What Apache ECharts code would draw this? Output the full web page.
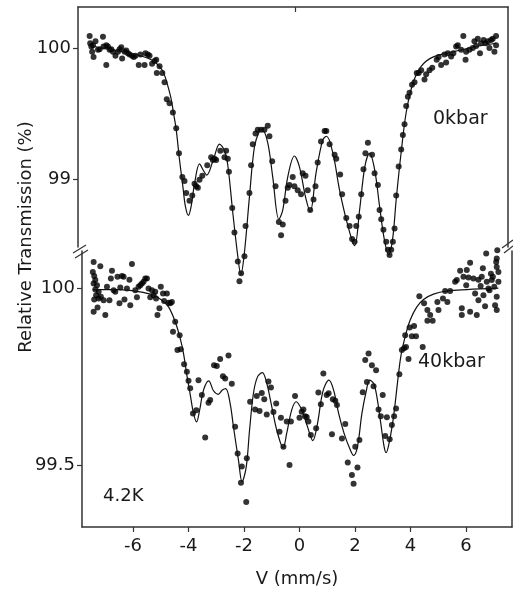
<!DOCTYPE html>
<html>
<head>
<meta charset="utf-8">
<script src="https://cdn.jsdelivr.net/npm/echarts@6/dist/echarts.min.js"></script>
<style>
html,body{margin:0;padding:0;background:#fff;}
#chart{width:513px;height:592px;}
</style>
</head>
<body>
<div id="chart"></div>
<script>
// ---- data ----
const xTicks = [-6, -4, -2, 0, 2, 4, 6];
const topYTicks = [99, 100];
const botYTicks = [99.5, 100];

// 0 kbar measured points [velocity mm/s, transmission %]
const topDots = [
[-7.42,100.09],[-7.40,100.035],[-7.36,100.01],[-7.33,99.97],[-7.28,99.93],[-7.30,100.02],[-7.21,100.05],[-7.12,99.985],[-7.06,99.99],[-6.94,100.085],[-6.92,100.01],[-6.82,100.02],[-6.82,99.87],[-6.76,100.01],[-6.70,99.985],[-6.64,99.99],[-6.58,99.97],[-6.49,99.94],[-6.40,99.97],[-6.34,99.99],[-6.28,100.005],[-6.25,99.92],[-6.16,99.97],[-6.10,99.98],[-6.04,99.96],[-5.98,99.95],[-5.89,99.94],[-5.83,99.93],[-5.77,99.94],[-5.65,99.87],[-5.59,99.95],[-5.44,99.87],[-5.41,99.96],[-5.32,99.95],[-5.26,99.94],[-5.17,99.88],[-5.08,99.90],[-5.02,99.91],[-5.00,99.81],[-4.90,99.86],[-4.80,99.81],[-4.72,99.74],[-4.64,99.61],[-4.54,99.58],[-4.42,99.51],[-4.30,99.39],[-4.20,99.20],[-4.08,99.02],[-4.00,98.99],[-3.94,98.90],[-3.82,98.84],[-3.72,98.88],[-3.64,98.97],[-3.58,98.95],[-3.52,98.94],[-3.46,99.00],[-3.36,99.03],[-3.18,99.11],[-3.04,99.17],[-2.98,99.15],[-2.92,99.16],[-2.86,99.15],[-2.71,99.22],[-2.56,99.17],[-2.50,99.22],[-2.44,99.16],
[-2.40,99.06],[-2.28,98.785],[-2.20,98.60],[-2.08,98.38],[-1.96,98.29],[-2.02,98.23],[-1.84,98.42],[-1.80,98.65],[-1.66,98.90],[-1.60,99.11],[-1.54,99.27],[-1.44,99.35],[-1.36,99.38],[-1.24,99.38],[-1.12,99.38],[-1.00,99.41],[-0.94,99.33],[-0.84,99.14],[-0.72,98.95],[-0.60,98.68],[-0.52,98.58],[-0.46,98.66],[-0.36,98.84],[-0.28,98.94],[-0.22,98.96],[-0.10,99.02],[-0.04,98.95],[0.08,98.92],[0.20,98.89],[0.26,99.05],[0.36,99.03],[0.44,98.92],[0.53,98.77],[0.65,98.85],[0.72,98.95],[0.80,99.13],[0.92,99.29],[1.05,99.37],[1.11,99.37],[1.23,99.27],[1.41,99.19],[1.47,99.16],[1.61,99.04],[1.68,98.89],[1.83,98.71],[1.95,98.65],[2.04,98.55],[2.13,98.53],[2.19,98.65],[2.28,98.72],[2.37,98.89],[2.45,99.08],[2.52,99.20],[2.61,99.28],
[2.76,99.19],[2.85,99.05],[2.97,98.96],[3.03,98.77],[3.09,98.70],[3.17,98.62],[3.27,98.53],[3.33,98.47],[3.39,98.43],[3.45,98.47],[3.51,98.53],[3.57,98.63],[3.63,98.88],[3.72,99.10],[3.81,99.23],[3.87,99.34],[3.93,99.42],[3.99,99.56],[4.05,99.63],[4.11,99.66],[4.20,99.72],[4.29,99.74],[4.37,99.81],[4.44,99.81],[4.53,99.83],[4.65,99.76],[4.71,99.80],[4.83,99.83],[4.93,99.85],[5.09,99.91],[5.16,99.93],[5.25,99.87],[5.37,99.95],[5.43,99.89],[5.49,99.96],[5.61,99.935],[5.69,99.96],[5.79,100.01],[5.85,100.02],[5.97,99.985],[6.05,100.09],[6.13,99.91],[6.15,99.97],[6.27,99.985],[6.39,100.0],[6.45,100.05],[6.51,100.015],[6.57,100.07],[6.65,99.96],[6.69,100.035],[6.78,100.06],[6.85,100.035],[6.93,100.05],[6.99,100.0],[7.05,100.06],[7.11,100.07],[7.17,99.97],[7.23,100.09],[7.23,100.02]
];

// 0 kbar fitted curve, sampled along the drawn line
const topFit = [
[-7.45,100.02],[-7.0,100.0],[-6.5,99.98],[-6.0,99.96],[-5.5,99.935],[-5.2,99.91],[-5.0,99.88],[-4.8,99.83],[-4.7,99.78],[-4.6,99.71],[-4.48,99.61],[-4.4,99.51],[-4.3,99.38],[-4.18,99.15],[-4.06,98.95],[-3.97,98.80],[-3.86,98.73],[-3.76,98.80],[-3.64,98.97],[-3.46,99.12],[-3.32,99.07],[-3.2,99.035],[-2.95,99.16],[-2.74,99.27],[-2.56,99.22],[-2.44,99.11],[-2.26,98.75],[-2.08,98.42],[-1.97,98.28],[-1.84,98.45],[-1.66,98.87],[-1.48,99.25],[-1.30,99.37],[-1.2,99.38],[-1.0,99.28],[-0.82,99.02],[-0.60,98.70],[-0.46,98.77],[-0.28,99.02],[-0.04,99.18],[0.14,99.10],[0.36,98.87],[0.53,98.76],[0.74,99.05],[0.98,99.30],[1.12,99.33],[1.35,99.20],[1.59,98.92],[1.89,98.65],[2.13,98.50],[2.31,98.77],[2.5,99.10],[2.67,99.20],[2.85,99.08],[3.03,98.80],[3.2,98.55],[3.36,98.43],[3.5,98.55],[3.63,98.85],[3.81,99.21],[3.99,99.51],[4.23,99.73],[4.53,99.86],[4.95,99.93],[5.67,99.97],[6.51,100.01],[7.23,100.035]
];

// 40 kbar measured points
const botDots = [
[-7.42,100.074],[-7.18,100.062],[-7.45,100.046],[-7.40,100.034],[-7.36,100.023],[-7.42,100.013],[-7.30,100.008],[-7.36,99.996],[-7.24,99.99],[-7.33,99.98],[-7.40,99.968],[-7.24,99.971],[-7.42,99.933],[-7.28,99.945],[-7.16,99.976],[-7.06,99.966],[-7.00,99.924],[-6.94,100.004],[-6.85,99.966],[-6.76,100.049],[-6.80,100.027],[-6.70,99.994],[-6.64,99.99],[-6.56,100.032],[-6.49,99.957],[-6.46,100.002],[-6.40,100.034],[-6.34,100.032],[-6.31,99.968],[-6.22,99.999],[-6.13,100.024],[-6.10,99.952],[-6.04,100.068],[-5.92,99.994],[-5.86,99.974],[-5.80,100.004],[-5.74,100.008],[-5.68,100.013],[-5.62,100.018],[-5.56,100.027],[-5.50,100.027],[-5.44,99.999],[-5.38,99.974],[-5.32,99.994],[-5.26,99.98],[-5.20,99.99],[-5.17,99.971],[-5.12,99.924],[-5.05,99.943],[-5.00,100.004],[-4.92,99.985],[-4.88,99.964],[-4.78,99.985],[-4.72,99.959],[-4.66,99.957],[-4.60,99.961],[-4.56,99.877],[-4.48,99.905],[-4.40,99.825],[-4.32,99.867],[-4.28,99.827],[-4.16,99.785],[-4.06,99.764],[-4.00,99.738],[-3.94,99.717],[-3.84,99.646],[-3.72,99.655],[-3.64,99.74],[-3.52,99.698],[-3.40,99.578],[-3.28,99.676],[-3.22,99.684],[-3.08,99.782],[-2.98,99.78],[-2.86,99.80],[-2.76,99.751],[-2.68,99.745],[-2.56,99.81],
[-2.44,99.73],[-2.32,99.608],[-2.23,99.533],[-2.08,99.496],[-1.90,99.519],[-2.11,99.45],[-1.92,99.396],[-1.78,99.679],[-1.60,99.657],[-1.54,99.695],[-1.44,99.653],[-1.36,99.704],[-1.27,99.686],[-1.18,99.643],[-1.12,99.736],[-1.03,99.719],[-0.94,99.65],[-0.84,99.674],[-0.72,99.594],[-0.67,99.634],[-0.58,99.552],[-0.46,99.623],[-0.36,99.50],[-0.31,99.623],[-0.16,99.695],[0.00,99.634],[0.08,99.651],[0.14,99.657],[0.20,99.638],[0.26,99.636],[0.32,99.623],[0.41,99.585],[0.60,99.604],[0.68,99.705],[0.77,99.672],[0.86,99.759],[0.98,99.698],[1.05,99.703],[1.20,99.686],[1.29,99.682],[1.35,99.67],[1.17,99.587],[1.53,99.575],[1.65,99.616],[1.74,99.507],[1.89,99.472],[1.95,99.447],[2.01,99.552],[2.09,99.493],[2.16,99.571],[2.28,99.706],[2.37,99.797],[2.43,99.735],[2.49,99.815],
[2.61,99.782],[2.76,99.768],[2.67,99.723],[3.00,99.698],[2.85,99.657],[2.93,99.638],[3.15,99.635],[3.33,99.613],[3.41,99.638],[3.48,99.66],[3.09,99.582],[3.25,99.573],[3.60,99.757],[3.69,99.825],[3.77,99.83],[3.84,99.834],[3.93,99.80],[3.81,99.867],[3.97,99.889],[4.05,99.864],[4.13,99.893],[4.20,99.864],[4.32,99.977],[4.44,99.834],[4.49,99.957],[4.61,99.938],[4.71,99.924],[4.80,99.908],[4.61,99.908],[5.01,99.938],[4.97,99.961],[5.17,99.971],[5.25,99.992],[5.33,99.961],[5.43,99.992],[5.61,100.018],[5.67,100.023],[5.79,100.049],[5.85,99.924],[5.85,99.943],[6.15,99.933],[6.39,99.924],[5.91,100.032],[6.03,100.051],[6.01,100.008],[6.09,100.03],[6.15,100.072],[6.27,100.027],[6.33,99.985],[6.45,99.966],[6.45,100.024],[6.57,100.032],[6.53,100.006],[6.61,100.056],[6.63,99.98],[6.69,99.949],[6.73,100.098],[6.75,100.018],[6.81,99.999],[6.85,99.994],[6.90,100.041],[6.93,100.023],[6.97,100.032],[7.02,100.004],[7.05,99.952],[7.11,99.938],[7.11,99.976],[7.11,100.084],[7.11,100.06],[7.17,100.046],[7.17,100.018],[7.13,100.107],[7.09,100.074]
];

// 40 kbar fitted curve
const botFit = [
[-7.45,99.996],[-6.5,99.996],[-5.8,99.99],[-5.26,99.98],[-4.96,99.966],[-4.72,99.947],[-4.48,99.905],[-4.30,99.858],[-4.18,99.815],[-4.06,99.754],[-3.94,99.70],[-3.82,99.646],[-3.71,99.622],[-3.60,99.655],[-3.46,99.712],[-3.27,99.738],[-3.1,99.71],[-2.93,99.70],[-2.78,99.712],[-2.66,99.716],[-2.50,99.674],[-2.38,99.608],[-2.20,99.514],[-2.07,99.453],[-1.92,99.495],[-1.80,99.599],[-1.66,99.703],[-1.51,99.75],[-1.34,99.761],[-1.18,99.731],[-1.00,99.665],[-0.82,99.599],[-0.59,99.549],[-0.46,99.59],[-0.28,99.656],[-0.12,99.679],[0.08,99.656],[0.29,99.608],[0.48,99.569],[0.65,99.618],[0.84,99.707],[1.06,99.74],[1.23,99.712],[1.41,99.646],[1.61,99.589],[1.83,99.543],[1.95,99.527],[2.09,99.552],[2.25,99.646],[2.40,99.707],[2.53,99.74],[2.67,99.731],[2.79,99.693],[2.93,99.618],[3.05,99.552],[3.12,99.535],[3.24,99.566],[3.39,99.637],[3.53,99.731],[3.65,99.806],[3.81,99.863],[3.99,99.91],[4.23,99.947],[4.47,99.968],[4.83,99.983],[5.31,99.992],[6.03,99.996],[7.17,100.0]
];

const labels = { top: '0kbar', bottom: '40kbar', temp: '4.2K' };

// ---- chart ----
const FONT = 'DejaVu Sans';
const INK = '#1a1a1a';
const FRAME = '#333';
const chart = echarts.init(document.getElementById('chart'), null, { renderer: 'canvas' });

const lineAxis = { show: true, onZero: false, lineStyle: { color: FRAME, width: 1.5 } };
const fmt = v => String(v);

chart.setOption({
  animation: false,
  backgroundColor: '#fff',
  grid: [
    { left: 78, right: 5, top: 7, height: 240, containLabel: false },
    { left: 82, right: 1, top: 251, bottom: 65, containLabel: false }
  ],
  xAxis: [
    { gridIndex: 0, type: 'value', position: 'top', min: -7.84, max: 7.66,
      axisLine: lineAxis, splitLine: { show: false }, axisLabel: { show: false },
      axisTick: { show: true, inside: true, length: 5, customValues: [0], lineStyle: { color: FRAME, width: 1.2 } } },
    { gridIndex: 1, type: 'value', position: 'bottom', min: -7.84, max: 7.66,
      axisLine: lineAxis, splitLine: { show: false },
      axisTick: { show: true, inside: false, length: 5, customValues: xTicks, lineStyle: { color: FRAME, width: 1.2 } },
      axisLabel: { customValues: xTicks, margin: 10, fontFamily: FONT, fontSize: 18, color: INK, formatter: fmt },
      name: 'V (mm/s)', nameLocation: 'middle', nameGap: 43,
      nameTextStyle: { fontFamily: FONT, fontSize: 18, color: INK } }
  ],
  yAxis: [
    { gridIndex: 0, type: 'value', position: 'left', min: 98.49, max: 100.31,
      axisLine: lineAxis, splitLine: { show: false },
      axisTick: { show: true, inside: false, length: 5, customValues: topYTicks, lineStyle: { color: FRAME, width: 1.2 } },
      axisLabel: { customValues: topYTicks, margin: 7, fontFamily: FONT, fontSize: 18, color: INK, formatter: fmt } },
    { gridIndex: 0, type: 'value', position: 'right', min: 98.49, max: 100.31,
      axisLine: lineAxis, splitLine: { show: false }, axisTick: { show: false }, axisLabel: { show: false } },
    { gridIndex: 1, type: 'value', position: 'left', min: 99.325, max: 100.105,
      axisLine: lineAxis, splitLine: { show: false },
      axisTick: { show: true, inside: false, length: 5, customValues: botYTicks, lineStyle: { color: FRAME, width: 1.2 } },
      axisLabel: { customValues: botYTicks, margin: 7, fontFamily: FONT, fontSize: 18, color: INK, formatter: fmt } },
    { gridIndex: 1, type: 'value', position: 'right', min: 99.325, max: 100.105,
      axisLine: lineAxis, splitLine: { show: false }, axisTick: { show: false }, axisLabel: { show: false } }
  ],
  series: [
    { type: 'line', xAxisIndex: 0, yAxisIndex: 0, data: topFit, smooth: 0.35, symbol: 'none', clip: false,
      lineStyle: { color: '#111', width: 1.2 } },
    { type: 'scatter', xAxisIndex: 0, yAxisIndex: 0, data: topDots, symbolSize: 6, clip: false,
      itemStyle: { color: '#000' } },
    { type: 'line', xAxisIndex: 1, yAxisIndex: 2, data: botFit, smooth: 0.35, symbol: 'none', clip: false,
      lineStyle: { color: '#111', width: 1.2 } },
    { type: 'scatter', xAxisIndex: 1, yAxisIndex: 2, data: botDots, symbolSize: 6, clip: false,
      itemStyle: { color: '#000' } }
  ],
  graphic: [
    { type: 'text', x: 26, y: 237, rotation: Math.PI / 2,
      style: { text: 'Relative Transmission (%)', x: 0, y: 0, align: 'center', verticalAlign: 'middle',
        font: '18px "DejaVu Sans"', fill: INK } },
    { type: 'text', x: 433, y: 119, style: { text: labels.top, align: 'left', verticalAlign: 'middle', font: '19px "DejaVu Sans"', fill: INK } },
    { type: 'text', x: 418, y: 362, style: { text: labels.bottom, align: 'left', verticalAlign: 'middle', font: '19px "DejaVu Sans"', fill: INK } },
    { type: 'text', x: 103, y: 496, style: { text: labels.temp, align: 'left', verticalAlign: 'middle', font: '18px "DejaVu Sans"', fill: INK } },
    // axis break marks
    { type: 'line', shape: { x1: 73, y1: 253, x2: 86, y2: 245 }, style: { stroke: FRAME, lineWidth: 1.3 } },
    { type: 'line', shape: { x1: 75, y1: 258, x2: 88, y2: 250 }, style: { stroke: FRAME, lineWidth: 1.3 } },
    { type: 'line', shape: { x1: 502, y1: 248, x2: 513, y2: 240 }, style: { stroke: FRAME, lineWidth: 1.3 } },
    { type: 'line', shape: { x1: 504, y1: 253, x2: 513, y2: 246 }, style: { stroke: FRAME, lineWidth: 1.3 } }
  ]
});
</script>
</body>
</html>
